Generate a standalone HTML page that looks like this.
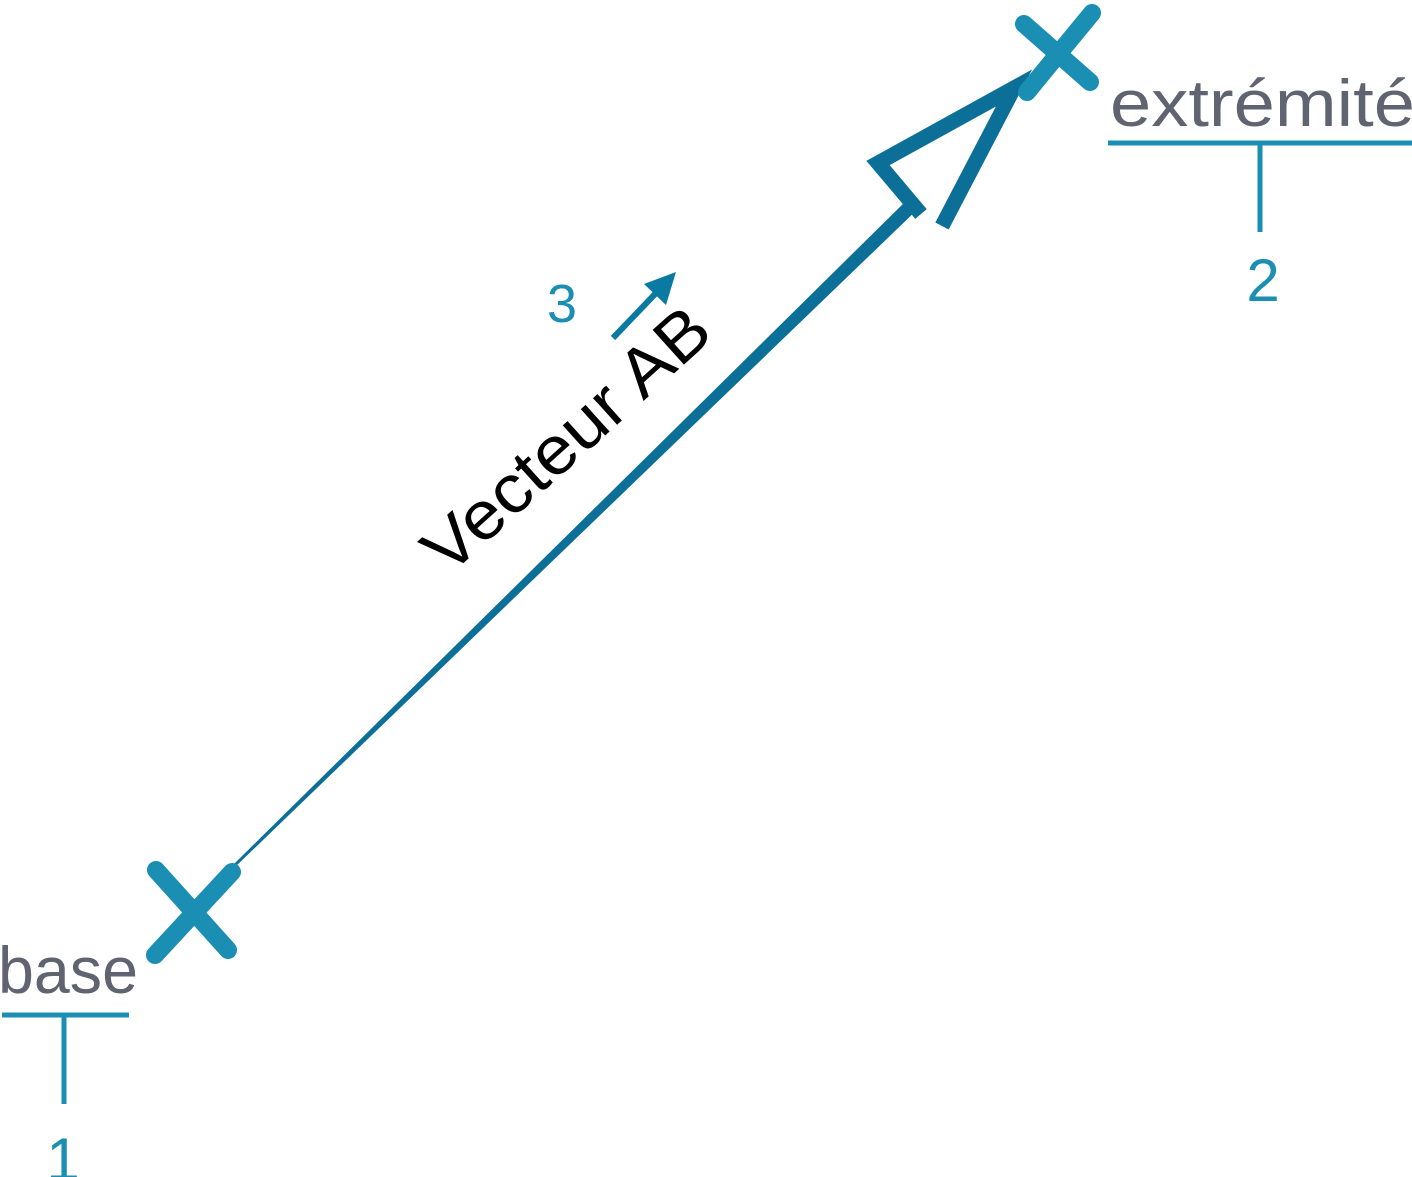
<!DOCTYPE html>
<html><head><meta charset="utf-8">
<style>html,body{margin:0;padding:0;background:#fff;}svg{display:block}</style></head>
<body>
<svg width="1412" height="1177" viewBox="0 0 1412 1177" xmlns="http://www.w3.org/2000/svg">
  <g>
    <polygon points="233,865 235,867 922,205 912,195" fill="#0b6f98"/>
  </g>
  <g fill="none" stroke="#0b6f98" stroke-width="15" stroke-linejoin="miter">
    <polyline points="921,214 878,163 1014,88 942,226"/>
  </g>
  <g stroke="#1a8fb3" stroke-width="18" stroke-linecap="round">
    <line x1="155" y1="955" x2="232" y2="872"/>
    <line x1="156" y1="870" x2="228" y2="950"/>
  </g>
  <g stroke="#1a8fb3" stroke-width="18" stroke-linecap="round">
    <line x1="1027" y1="92" x2="1092" y2="13"/>
    <line x1="1024" y1="24" x2="1090" y2="82"/>
  </g>
  <text x="1110" y="126" font-family="Liberation Sans, sans-serif" font-size="66" fill="#5f6470" textLength="305" lengthAdjust="spacingAndGlyphs">extrémité</text>
  <line x1="1108" y1="143" x2="1412" y2="143" stroke="#1a8fb3" stroke-width="5"/>
  <line x1="1260" y1="143" x2="1260" y2="232" stroke="#1a8fb3" stroke-width="5"/>
  <text x="1263" y="301" text-anchor="middle" font-family="Liberation Sans, sans-serif" font-size="60" fill="#1a8fb3">2</text>

  <text x="-2" y="993" font-family="Liberation Sans, sans-serif" font-size="66" fill="#5f6470" textLength="140" lengthAdjust="spacingAndGlyphs">base</text>
  <line x1="2" y1="1015" x2="129" y2="1015" stroke="#1a8fb3" stroke-width="5"/>
  <line x1="64" y1="1015" x2="64" y2="1104" stroke="#1a8fb3" stroke-width="5"/>
  <text x="63" y="1180" text-anchor="middle" font-family="Liberation Sans, sans-serif" font-size="60" fill="#1a8fb3">1</text>

  <text x="562" y="322" text-anchor="middle" font-family="Liberation Sans, sans-serif" font-size="54" fill="#1a8fb3">3</text>
  <g>
    <line x1="613" y1="338" x2="657" y2="292" stroke="#0b7aa3" stroke-width="6"/>
    <polygon points="676,272 666,305 644,284" fill="#0b7aa3"/>
  </g>
  <text x="0" y="0" transform="translate(448,577) rotate(-42)" font-family="Liberation Sans, sans-serif" font-size="68" fill="#000" textLength="360" lengthAdjust="spacingAndGlyphs">Vecteur AB</text>
</svg>
</body></html>
